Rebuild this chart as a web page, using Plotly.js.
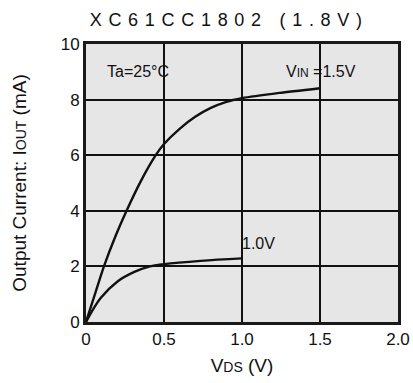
<!DOCTYPE html>
<html><head><meta charset="utf-8">
<script src="https://cdn.plot.ly/plotly-3.0.1.min.js"></script>
<style>html,body{margin:0;padding:0;background:#fff}#chart{width:413px;height:383px}</style>
</head><body><div id="chart"></div>
<script>
const vds15 = [0, 0.06, 0.115, 0.19, 0.26, 0.35, 0.447, 0.5, 0.6, 0.7, 0.8, 0.9, 1.0, 1.24, 1.5];
const iout15 = [0, 1.05, 2.0, 3.1, 4.0, 5.05, 6.0, 6.4, 6.95, 7.38, 7.7, 7.92, 8.05, 8.24, 8.41];
const vds10 = [0, 0.094, 0.2, 0.31, 0.41, 0.5, 0.735, 1.0];
const iout10 = [0, 0.86, 1.45, 1.8, 2.0, 2.08, 2.2, 2.29];
const xTicks = [0, 0.5, 1.0, 1.5, 2.0];
const xTickText = ['0', '0.5', '1.0', '1.5', '2.0'];
const yTicks = [0, 2, 4, 6, 8, 10];

const font = 'Liberation Sans, Arial, sans-serif';
const traces = [
  {x: vds15, y: iout15, mode: 'lines', line: {color: '#111', width: 2.4, shape: 'spline', smoothing: 0.6}, hoverinfo: 'skip'},
  {x: vds10, y: iout10, mode: 'lines', line: {color: '#111', width: 2.4, shape: 'spline', smoothing: 1}, hoverinfo: 'skip'}
];
const layout = {
  width: 413, height: 383,
  margin: {l: 86, r: 15, t: 44, b: 61},
  paper_bgcolor: '#fff', plot_bgcolor: '#e6e6e6',
  showlegend: false,
  font: {family: font, size: 17, color: '#111'},
  title: {text: 'XC61CC1802 (1.8V)', x: 0.555, xanchor: 'center', y: 0.948, yanchor: 'middle', font: {family: font, size: 18, color: '#111'}},
  xaxis: {range: [0, 2], tickvals: xTicks, ticktext: xTickText, showgrid: true, gridcolor: '#111', gridwidth: 1.5,
    showline: true, linecolor: '#1a1a1a', linewidth: 3, mirror: true, zeroline: false, ticks: '', ticklen: 0, fixedrange: true,
    tickfont: {size: 17}, title: {text: 'V<span style="font-size:14px">DS</span> (V)', font: {size: 19}, standoff: 11}},
  yaxis: {range: [0, 10], tickvals: yTicks, showgrid: true, gridcolor: '#111', gridwidth: 1.5,
    showline: true, linecolor: '#1a1a1a', linewidth: 3, mirror: true, zeroline: false, ticks: '', ticklen: 0, fixedrange: true,
    tickfont: {size: 17}, title: {text: 'Output Current: I<span style="font-size:14px">OUT</span> (mA)', font: {size: 19}, standoff: 30}},
  annotations: [
    {x: 0.12, y: 9.0, xref: 'x', yref: 'y', text: 'Ta=25°C', showarrow: false, xanchor: 'left', font: {size: 16}},
    {x: 1.745, y: 9.0, xref: 'x', yref: 'y', text: 'V<span style="font-size:12px">IN</span> =1.5V', showarrow: false, xanchor: 'right', font: {size: 16}},
    {x: 0.985, y: 2.82, xref: 'x', yref: 'y', text: '1.0V', showarrow: false, xanchor: 'left', font: {size: 16}}
  ]
};
Plotly.newPlot('chart', traces, layout, {displayModeBar: false}).then(function () {
  const t = document.querySelector('.gtitle');
  if (t) { t.style.letterSpacing = '6.7px'; }
});
</script></body></html>
